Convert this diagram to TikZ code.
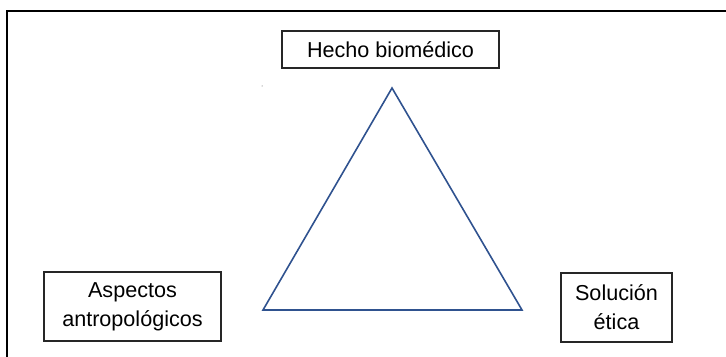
\documentclass[tikz,border=0pt]{standalone}
\usepackage{fontspec}
\setmainfont{Liberation Sans}
\definecolor{triblue}{RGB}{47,82,143}

\begin{document}
\begin{tikzpicture}[x=0.5pt,y=-0.5pt,
		caja/.style={draw=black!85,line width=0.6pt,inner sep=0pt,align=center,
			font=\fontsize{10.8}{14.5}\selectfont}]
			\useasboundingbox (0,0) rectangle (726,357);
			\draw[line width=0.6pt] (726,11) -| (7,357);
			\node[caja, minimum width=108.5pt, minimum height=18.5pt] (hecho) at (390.5,49.5) {Hecho biomédico};
			\node[caja, minimum width=88.5pt, minimum height=34.5pt] (aspectos) at (132.5,306.5) {Aspectos\\antropológicos};
			\node[caja, minimum width=55.5pt, minimum height=34.5pt] (solucion) at (616.5,307.5) {Solución\\ética};
			\coordinate (t_a) at (392,88);
			\coordinate (t_b) at (263,310);
			\coordinate (t_c) at (522,310);
			\draw[triblue, line width=0.8pt] (t_a) -- (t_b) -- (t_c) -- cycle;
			\fill[black!70] (262,86) circle (0.5);
		\end{tikzpicture}
\end{document}
